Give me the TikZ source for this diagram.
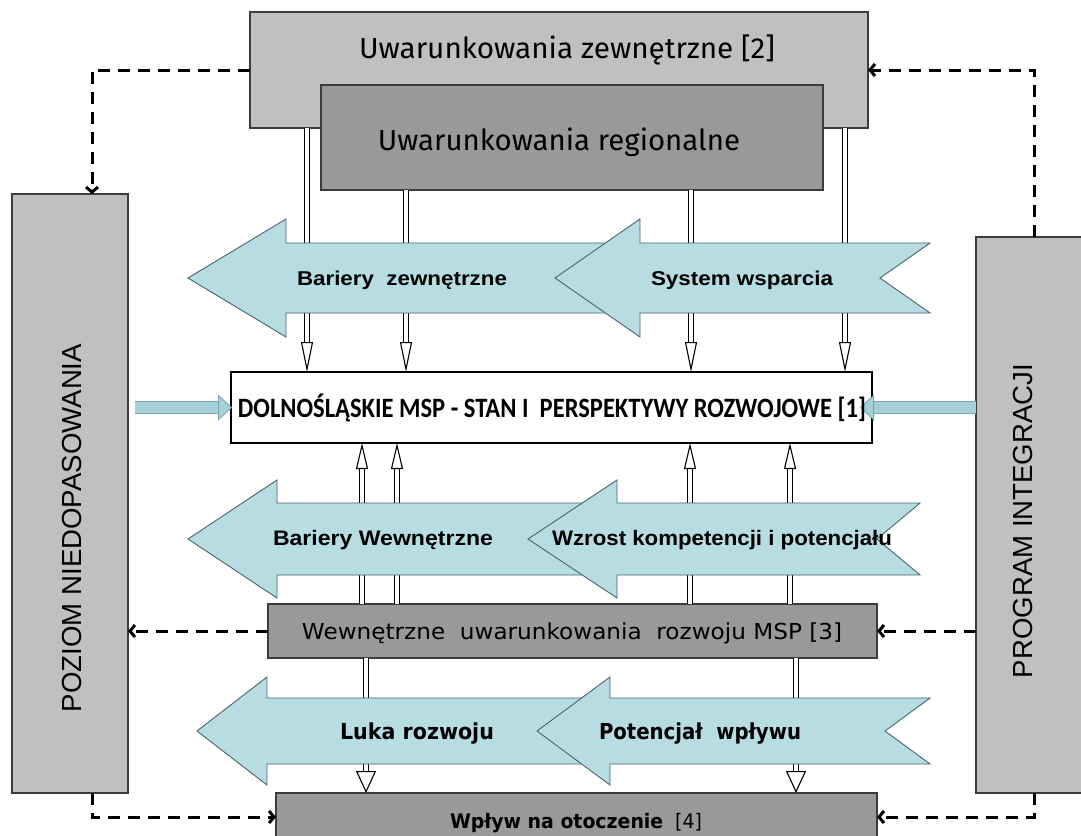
\documentclass[tikz,border=0pt]{standalone}
\usepackage{fontspec}
\usepackage{graphicx}
\usetikzlibrary{arrows.meta,calc}
\newfontfamily\fira{Fira Sans}
\newfontfamily\carl{Carlito}
\newfontfamily\libs{Liberation Sans}
\newfontfamily\dejav{DejaVu Sans}
\newcommand\fitw[2]{\resizebox{#1}{\height}{#2}}
\definecolor{lgray}{RGB}{192,192,192}
\definecolor{dgray}{RGB}{153,153,153}
\definecolor{bedge}{RGB}{60,60,60}
\definecolor{ablue}{RGB}{183,221,226}
\definecolor{aedge}{RGB}{70,100,108}
\definecolor{sblue}{RGB}{165,208,215}
\definecolor{sedge}{RGB}{120,165,175}
\begin{document}
\begin{tikzpicture}[x=1pt,y=-1pt,
  box/.style={draw=bedge, line width=1.2pt, inner sep=0pt, outer sep=0pt, anchor=north west},
  dashln/.style={line width=3pt, dash pattern=on 12pt off 8pt, -{Straight Barb[length=5pt,width=12pt]}},
  dblar/.style={draw=black, line width=1.3pt, double=white, double distance=3.4pt},
  tipdn/.style={-{Triangle[length=30pt,width=12pt,fill=white,line width=1.1pt]}},
  tipup/.style={-{Triangle[length=26pt,width=12pt,fill=white,line width=1.1pt]}},
  tipwide/.style={-{Triangle[length=22pt,width=20pt,fill=white,line width=1.1pt]}},
  barrow/.style={fill=ablue, draw=aedge, line width=0.9pt, line join=miter},
  sarrow/.style={draw=sedge, line width=0.8pt, double=sblue, double distance=11pt, -{Triangle[length=14pt,width=26pt,fill=sblue,line width=0.8pt]}},
  txt/.style={anchor=base, inner sep=0pt}
]
\useasboundingbox (0,0) rectangle (1081,835);
\fill[white] (0,0) rectangle (1081,835);

% boxes
\node[box, fill=lgray, minimum width=618pt, minimum height=116pt] (ext) at (250,12) {};
\node[box, fill=dgray, minimum width=502pt, minimum height=105pt] (reg) at (321,85) {};
\node[box, fill=lgray, minimum width=116pt, minimum height=599pt] (pn) at (12,194) {};
\node[box, fill=lgray, minimum width=108pt, minimum height=556pt] (pi) at (976,237) {};
\node[box, draw=black, line width=2.4pt, fill=white, minimum width=641pt, minimum height=71pt] (cb) at (231,372) {};
\node[box, fill=dgray, minimum width=609pt, minimum height=54pt] (wu) at (268,604) {};
\node[box, fill=dgray, minimum width=601pt, minimum height=48pt] (wp) at (276,793) {};

% x positions of vertical connectors
\coordinate (x1) at (307,0);
\coordinate (x2) at (406,0);
\coordinate (x3) at (691,0);
\coordinate (x4) at (845,0);
\coordinate (x5) at (362,0);
\coordinate (x6) at (397,0);
\coordinate (x7) at (690,0);
\coordinate (x8) at (790,0);
\coordinate (x9) at (366,0);
\coordinate (x10) at (796,0);

% double connectors
\draw[dblar, tipdn] (ext.south -| x1) -- (cb.north -| x1);
\draw[dblar, tipdn] (reg.south -| x2) -- (cb.north -| x2);
\draw[dblar, tipdn] (reg.south -| x3) -- (cb.north -| x3);
\draw[dblar, tipdn] (ext.south -| x4) -- (cb.north -| x4);
\draw[dblar, tipup] (wu.north -| x5) -- (cb.south -| x5);
\draw[dblar, tipup] (wu.north -| x6) -- (cb.south -| x6);
\draw[dblar, tipup] (wu.north -| x7) -- (cb.south -| x7);
\draw[dblar, tipup] (wu.north -| x8) -- (cb.south -| x8);
\draw[dblar, tipwide] (wu.south -| x9) -- (wp.north -| x9);
\draw[dblar, tipwide] (wu.south -| x10) -- (wp.north -| x10);

% dashed connectors
\draw[dashln] (ext.west) -| ([xshift=22pt]pn.north);
\draw[dashln] ([xshift=4pt]pi.north) |- (ext.east);
\draw[dashln] (pi.west |- wu.east) -- (wu.east);
\draw[dashln] (wu.west) -- (pn.east |- wu.west);
\draw[dashln] ([xshift=22pt]pn.south) |- (wp.west);
\draw[dashln] ([xshift=4pt]pi.south) |- (wp.east);

% big block arrows
\draw[barrow] (188,278) -- (286,219) -- (286,243) -- (620,243) -- (620,313) -- (286,313) -- (286,337) -- cycle;
\draw[barrow] (555,278) -- (640,219) -- (640,243) -- (930,243) -- (880,278) -- (930,313) -- (640,313) -- (640,337) -- cycle;
\draw[barrow] (188,539) -- (277,480) -- (277,503) -- (600,503) -- (600,575) -- (277,575) -- (277,598) -- cycle;
\draw[barrow] (528,539) -- (617,480) -- (617,503) -- (920,503) -- (877,539) -- (920,575) -- (617,575) -- (617,598) -- cycle;
\draw[barrow] (197,731) -- (267,677) -- (267,698) -- (600,698) -- (600,764) -- (267,764) -- (267,785) -- cycle;
\draw[barrow] (537,731) -- (610,677) -- (610,698) -- (930,698) -- (885,731) -- (930,764) -- (610,764) -- (610,785) -- cycle;

% small blue arrows into the central box
\draw[sarrow] ([xshift=7pt]pn.east |- cb.west) -- ([xshift=1pt]cb.west);
\draw[sarrow] (pi.west |- cb.east) -- ([xshift=-12pt]cb.east);

% texts
\node[txt, font=\fira\fontsize{29}{32}\selectfont] (t1) at (567,58) {\fitw{416pt}{Uwarunkowania zewnętrzne [2]}};
\node[txt, font=\fira\fontsize{29}{32}\selectfont] (t2) at (559,150) {\fitw{362pt}{Uwarunkowania regionalne}};
\node[txt, font=\carl\bfseries\fontsize{28}{31}\selectfont] (t3) at (552,417) {\fitw{628pt}{DOLNOŚLĄSKIE MSP - STAN I\ \ PERSPEKTYWY ROZWOJOWE [1]}};
\node[txt, font=\libs\bfseries\fontsize{20}{23}\selectfont] (r1a) at (402,285) {\fitw{210pt}{Bariery\ \ zewnętrzne}};
\node[txt, font=\libs\bfseries\fontsize{20}{23}\selectfont] (r1b) at (742,285) {\fitw{182pt}{System wsparcia}};
\node[txt, font=\libs\bfseries\fontsize{21}{24}\selectfont] (r2a) at (383,545) {\fitw{220pt}{Bariery Wewnętrzne}};
\node[txt, font=\libs\bfseries\fontsize{21}{24}\selectfont] (r2b) at (722,545) {\fitw{340pt}{Wzrost kompetencji i potencjału}};
\node[txt, font=\dejav\bfseries\fontsize{22}{25}\selectfont] (r3a) at (417,739) {\fitw{154pt}{Luka rozwoju}};
\node[txt, font=\dejav\bfseries\fontsize{22}{25}\selectfont] (r3b) at (700,739) {\fitw{202pt}{Potencjał\ \ wpływu}};
\node[txt, font=\dejav\fontsize{22}{25}\selectfont] (t4) at (572,639) {\fitw{540pt}{Wewnętrzne\ \ uwarunkowania\ \ rozwoju MSP [3]}};
\node[txt, font=\dejav\fontsize{20}{23}\selectfont] (t5) at (576,828) {\fitw{252pt}{\textbf{Wpływ na otoczenie}\ \ [4]}};
\node[rotate=90, inner sep=0pt, font=\libs\fontsize{27.6}{30}\selectfont] (tpn) at (72,528) {POZIOM NIEDOPASOWANIA};
\node[rotate=90, inner sep=0pt, font=\libs\fontsize{27.6}{30}\selectfont] (tpi) at (1023,521) {PROGRAM INTEGRACJI};
\end{tikzpicture}
\end{document}
